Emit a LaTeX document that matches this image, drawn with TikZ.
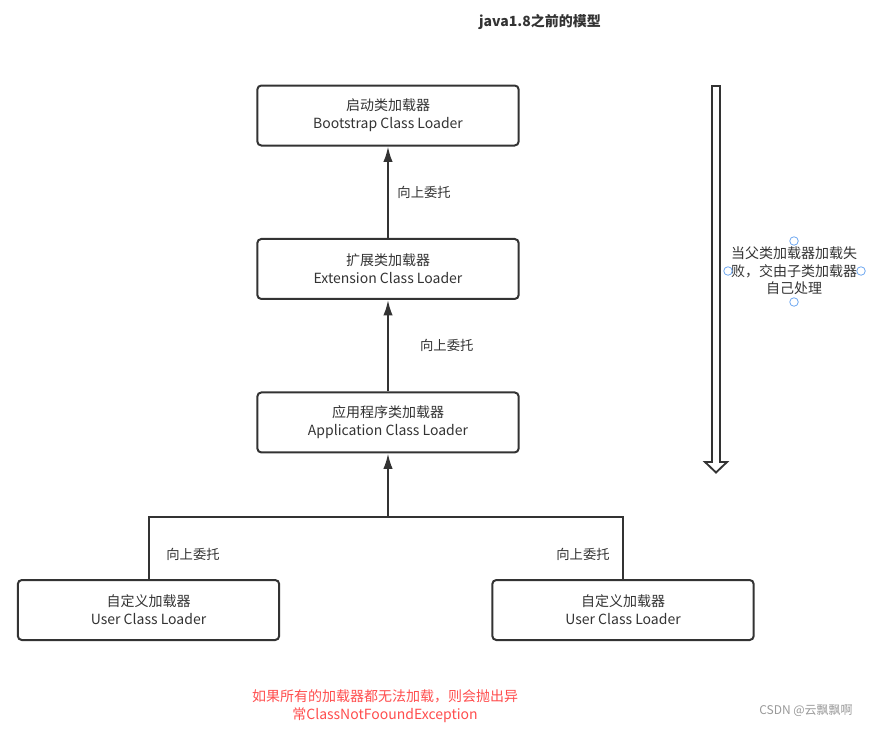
\documentclass[tikz,border=0pt]{standalone}
\usepackage{fontspec}
\setmainfont{Noto Sans CJK SC}
\usetikzlibrary{positioning,arrows.meta}
\definecolor{ink}{HTML}{333333}
\definecolor{alarm}{HTML}{FF4D4D}
\definecolor{handle}{HTML}{6FA8F0}
\begin{document}
\begin{tikzpicture}[-{Latex[length=11.5pt,width=7pt]},x=0.75pt,y=-0.75pt,node distance=115.1pt,ink,line width=1.5pt,
  loader/.style={rectangle,rounded corners=3pt,draw=ink,minimum width=196pt,minimum height=45pt,align=center,font=\fontsize{10.5pt}{13.5pt}\selectfont,text=ink},
  tag/.style={font=\fontsize{10pt}{12pt}\selectfont,text=ink}]
  \useasboundingbox (0,0) rectangle (891,733);
  \node[font=\bfseries\fontsize{10.5pt}{12pt}\selectfont,text=ink] (title) at (540,22) {java1.8之前的模型};

  \node[loader] (boot) at (388,115.5) {启动类加载器\\Bootstrap Class Loader};
  \node[loader] (ext) [below of=boot] {扩展类加载器\\Extension Class Loader};
  \node[loader] (app) [below of=ext] {应用程序类加载器\\Application Class Loader};
  \node[loader] (user1) at (148.5,610) {自定义加载器\\User Class Loader};
  \node[loader] (user2) at (623,610) {自定义加载器\\User Class Loader};

  \coordinate (join) at (388,517);
  \coordinate (joinL) at (149,517);
  \coordinate (joinR) at (623,517);

\path (ext) edge node [tag,right=3pt] {向上委托} (boot)
      (app) edge node [tag,right=20pt] {向上委托} (ext);
\draw[-] (user1.north -| joinL) -- (joinL) -- (joinR) -- (user2.north -| joinR);
\draw (join) -- (app);
\node[tag] (up1) at (193,554) {向上委托};
\node[tag] (up2) at (583,554) {向上委托};

  % hollow arrow on the right
  \draw[-,line width=1.4pt,fill=white] (712,86) -- (720,86) -- (720,462) -- (727,462) -- (716,472.5) -- (705,462) -- (712,462) -- cycle;
  \node[align=center,font=\fontsize{10.5pt}{13pt}\selectfont,text=ink] (fail) at (794,271) {当父类加载器加载失\\败，交由子类加载器\\自己处理};
  \foreach \hx/\hy in {794/241,794/302,728/271,861/271}
    \draw[-,handle,line width=0.6pt,fill=white,fill opacity=0] (\hx,\hy) circle (3.2pt);

  \node[align=center,font=\fontsize{10.5pt}{13.5pt}\selectfont,text=alarm] (nofound) at (385,706) {如果所有的加载器都无法加载，则会抛出异\\常ClassNotFooundException};
  \node[font=\fontsize{9pt}{11pt}\selectfont,text=black!40] (mark) at (806,711) {CSDN @云飘飘啊};
\end{tikzpicture}
\end{document}
